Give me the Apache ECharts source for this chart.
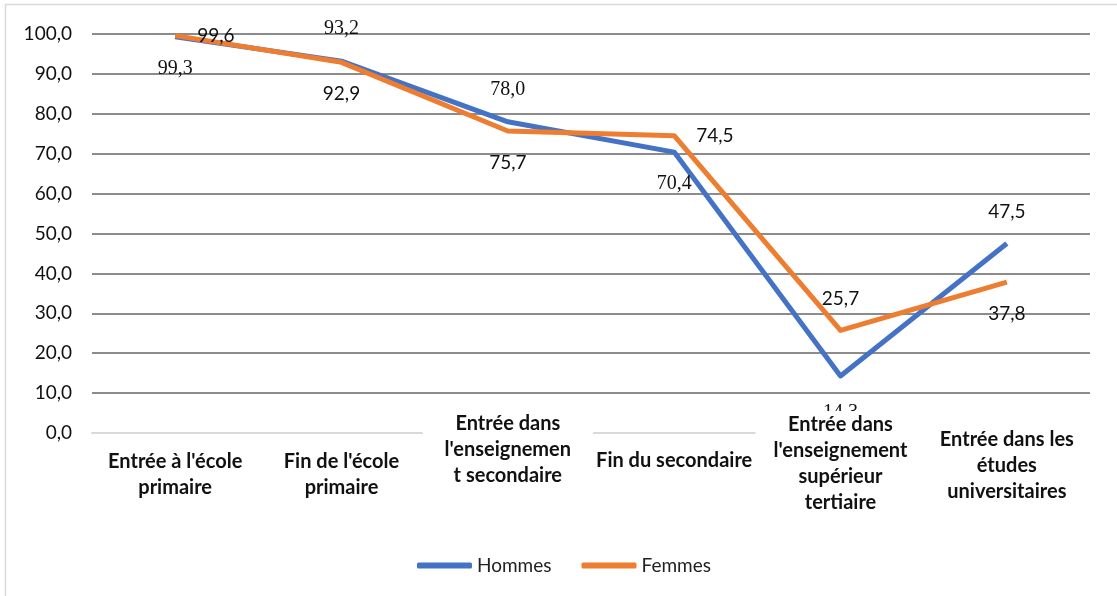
<!DOCTYPE html>
<html>
<head>
<meta charset="utf-8">
<script src="https://cdn.jsdelivr.net/npm/echarts@6/dist/echarts.min.js"></script>
<style>
  html, body { margin: 0; padding: 0; background: #fff; }
  #chart { width: 1117px; height: 596px; }
</style>
</head>
<body>
<div id="chart"></div>
<script>
// categories as they are wrapped in the original chart
const categories = [
  "Entrée à l'école\nprimaire",
  "Fin de l'école\nprimaire",
  "Entrée dans\nl'enseignemen\nt secondaire",
  'Fin du secondaire',
  "Entrée dans\nl'enseignement\nsupérieur\ntertiaire",
  'Entrée dans les\nétudes\nuniversitaires',
];
const hommes = [99.3, 93.2, 78.0, 70.4, 14.3, 47.5];
const femmes = [99.6, 92.9, 75.7, 74.5, 25.7, 37.8];
const yTicks = { min: 0, max: 100, interval: 10 };

// where each data label sits around its point
const hommesLabelPos = ['bottom', 'top', 'top', 'bottom', 'bottom', 'top'];
const hommesLabelDist = [22, 22, 22, 22, 27, 22];
const femmesLabelPos = ['right', 'bottom', 'bottom', 'right', 'top', 'bottom'];
const femmesLabelDist = [22, 22, 22, 22, 22, 22];
// vertical shift of the wrapped category labels, and which ones hide the axis
const catPadTop = [38, 38, 0, 37, 1, 16];
const catBoxed = [false, false, true, false, true, true];

const fmt = v => v.toFixed(1).replace('.', ',');
const SANS = 'Lato';
const SERIF = 'Liberation Serif';

const buildData = (values, pos, dist, font) =>
  values.map((v, i) => {
    const f = i === 5 ? SANS : font;
    return {
      value: v,
      label: {
        position: pos[i],
        distance: dist[i],
        fontFamily: f,
        fontSize: f === SERIF ? 20 : 19,
      },
    };
  });

const chart = echarts.init(document.getElementById('chart'));
chart.setOption({
  animation: false,
  backgroundColor: '#fff',
  graphic: [
    {
      type: 'rect',
      shape: { x: 5.5, y: 4.5, width: 1300, height: 700 },
      style: { fill: 'none', stroke: '#d9d9d9', lineWidth: 1.5 },
      silent: true,
    },
  ],
  grid: { left: 92, right: 27, top: 34, bottom: 163 },
  legend: {
    left: 412,
    top: 551,
    icon: 'roundRect',
    itemWidth: 55,
    itemHeight: 6,
    itemGap: 30,
    textStyle: { fontFamily: SANS, fontSize: 19, color: '#222' },
    data: ['Hommes', 'Femmes'],
  },
  xAxis: {
    type: 'category',
    z: 10,
    data: categories.map((c, i) => ({
      value: c,
      textStyle: catBoxed[i]
        ? { padding: [catPadTop[i], 0, 0, 0], backgroundColor: '#fff', width: 170 }
        : { padding: [catPadTop[i], 0, 0, 0] },
    })),
    axisLine: { lineStyle: { color: '#d9d9d9', width: 2 } },
    axisTick: { show: false },
    axisLabel: {
      interval: 0,
      margin: -22,
      verticalAlign: 'top',
      align: 'center',
      fontFamily: SANS,
      fontWeight: 'bold',
      fontSize: 20,
      lineHeight: 26,
      color: '#111',
    },
  },
  yAxis: {
    type: 'value',
    min: yTicks.min,
    max: yTicks.max,
    interval: yTicks.interval,
    axisLine: { show: false },
    axisTick: { show: false },
    axisLabel: {
      formatter: v => fmt(v),
      margin: 20,
      fontFamily: SANS,
      fontSize: 19,
      color: '#111',
    },
    splitLine: {
      showMinLine: false,
      lineStyle: { color: '#8c8c8c', width: 2 },
    },
  },
  series: [
    {
      name: 'Hommes',
      type: 'line',
      data: buildData(hommes, hommesLabelPos, hommesLabelDist, SERIF),
      symbol: 'circle',
      symbolSize: 0,
      showSymbol: true,
      lineStyle: { color: '#4472C4', width: 5, join: 'round' },
      itemStyle: { color: '#4472C4' },
      label: {
        show: true,
        color: '#111',
        formatter: p => fmt(p.value),
      },
    },
    {
      name: 'Femmes',
      type: 'line',
      data: buildData(femmes, femmesLabelPos, femmesLabelDist, SANS),
      symbol: 'circle',
      symbolSize: 0,
      showSymbol: true,
      lineStyle: { color: '#ED7D31', width: 5, join: 'round' },
      itemStyle: { color: '#ED7D31' },
      label: {
        show: true,
        color: '#111',
        formatter: p => fmt(p.value),
      },
    },
  ],
});
</script>
</body>
</html>
